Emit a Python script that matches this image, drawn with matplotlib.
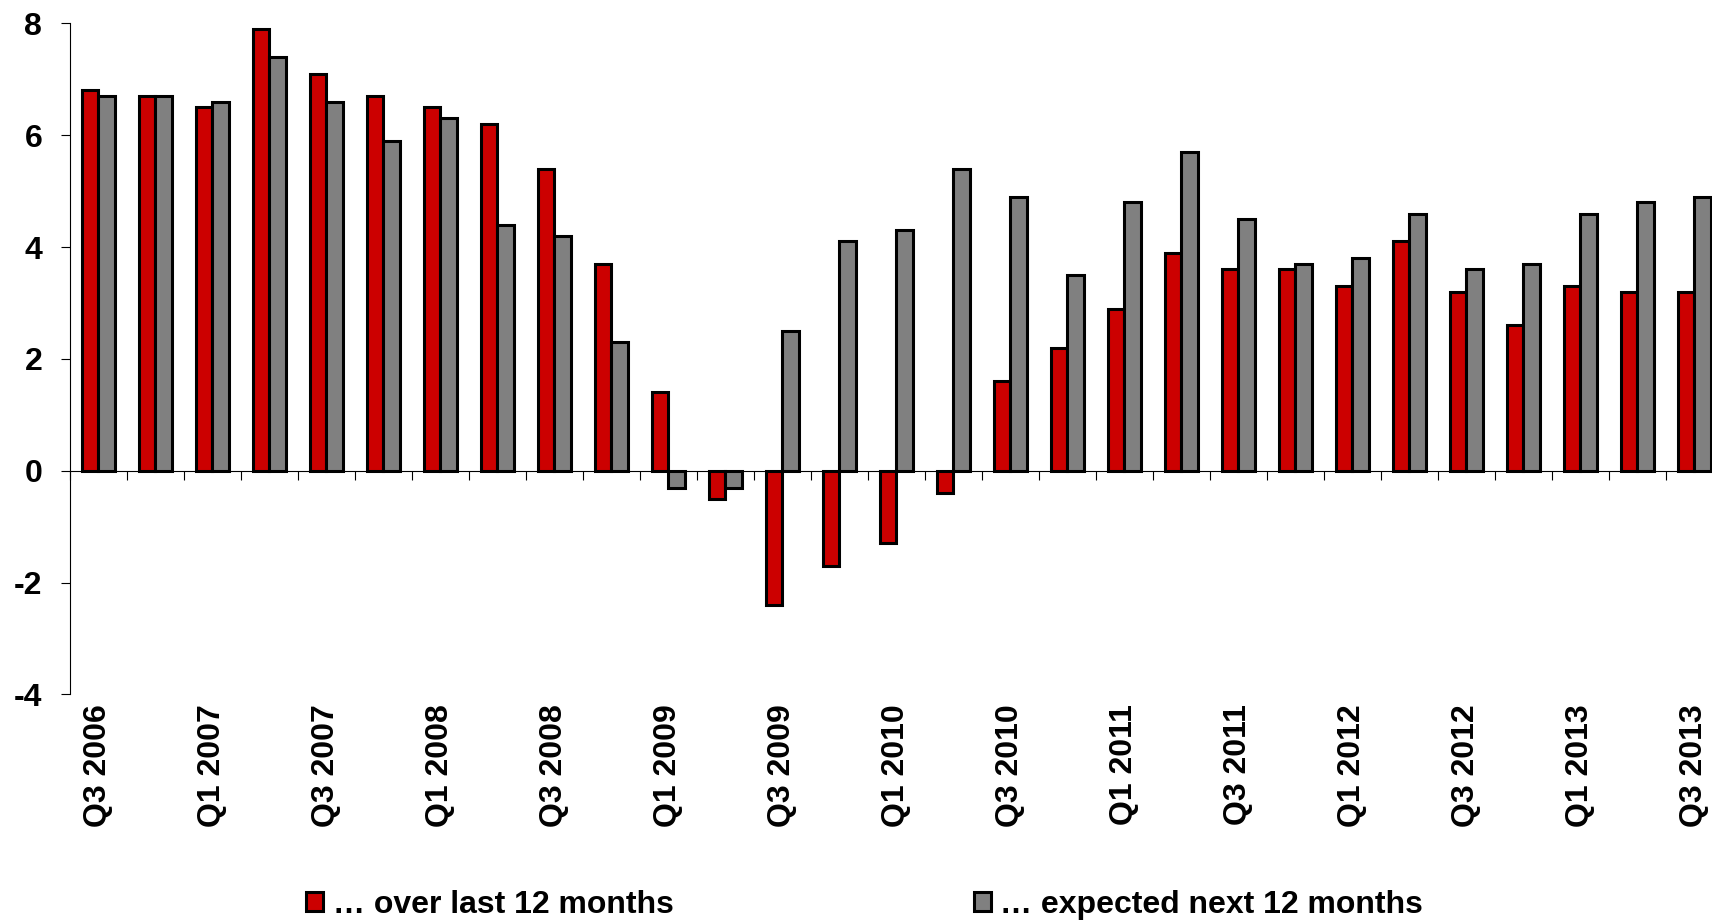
import numpy as np
import matplotlib
matplotlib.use('Agg')
import matplotlib.pyplot as plt

plt.rcParams['font.family'] = ['Liberation Sans', 'DejaVu Sans']
plt.rcParams['font.weight'] = 'bold'
plt.rcParams['axes.unicode_minus'] = False

# quarters Q3 2006 .. Q3 2013
quarters = ['Q3 2006', 'Q4 2006', 'Q1 2007', 'Q2 2007', 'Q3 2007', 'Q4 2007',
            'Q1 2008', 'Q2 2008', 'Q3 2008', 'Q4 2008', 'Q1 2009', 'Q2 2009',
            'Q3 2009', 'Q4 2009', 'Q1 2010', 'Q2 2010', 'Q3 2010', 'Q4 2010',
            'Q1 2011', 'Q2 2011', 'Q3 2011', 'Q4 2011', 'Q1 2012', 'Q2 2012',
            'Q3 2012', 'Q4 2012', 'Q1 2013', 'Q2 2013', 'Q3 2013']

last_12 = [6.8, 6.7, 6.5, 7.9, 7.1, 6.7, 6.5, 6.2, 5.4, 3.7, 1.4, -0.5,
           -2.4, -1.7, -1.3, -0.4, 1.6, 2.2, 2.9, 3.9, 3.6, 3.6, 3.3, 4.1,
           3.2, 2.6, 3.3, 3.2, 3.2]
next_12 = [6.7, 6.7, 6.6, 7.4, 6.6, 5.9, 6.3, 4.4, 4.2, 2.3, -0.3, -0.3,
           2.5, 4.1, 4.3, 5.4, 4.9, 3.5, 4.8, 5.7, 4.5, 3.7, 3.8, 4.6,
           3.6, 3.7, 4.6, 4.8, 4.9]

label_1 = '… over last 12 months'
label_2 = '… expected next 12 months'

fs = 23
x = np.arange(len(quarters))
w = 0.29

fig = plt.figure(figsize=(17.12, 9.21), dpi=100)
ax = fig.add_axes([0.0407, 0.246, 0.9655, 0.7286])

ax.bar(x - w / 2, last_12, w, color='#CC0000', edgecolor='black', linewidth=2.2,
       label=label_1, zorder=3)
ax.bar(x + w / 2, next_12, w, color='#808080', edgecolor='black', linewidth=2.2,
       label=label_2, zorder=3)

ax.set_xlim(-0.5, len(quarters) - 0.5)
ax.set_ylim(-4, 8)
ax.set_yticks(np.arange(-4, 9, 2))

ax.spines['top'].set_visible(False)
ax.spines['right'].set_visible(False)
ax.spines['bottom'].set_position(('data', 0))
ax.spines['bottom'].set_zorder(2)

# tick marks between categories on the zero line
ax.set_xticks(np.arange(len(quarters) + 1) - 0.5)
ax.tick_params(axis='x', direction='out', length=6.8, width=0.8, labelbottom=False)
ax.tick_params(axis='y', direction='out', length=6.8, width=0.8, pad=13, labelsize=fs)

# category labels at the bottom of the plot area
sec = ax.secondary_xaxis('bottom')
sec.set_xticks(x[::2])
sec.set_xticklabels(quarters[::2], rotation=90, fontsize=fs, fontweight='bold')
sec.tick_params(length=0, pad=7)
sec.spines['bottom'].set_visible(False)

fig.legend(loc='center left', bbox_to_anchor=(306 / 1712, 16 / 921), ncol=2,
           frameon=False, fontsize=fs, handlelength=0.54, handleheight=0.54,
           handletextpad=0.29, columnspacing=9.4, borderpad=0, borderaxespad=0)

plt.savefig('out.png', dpi=100)
